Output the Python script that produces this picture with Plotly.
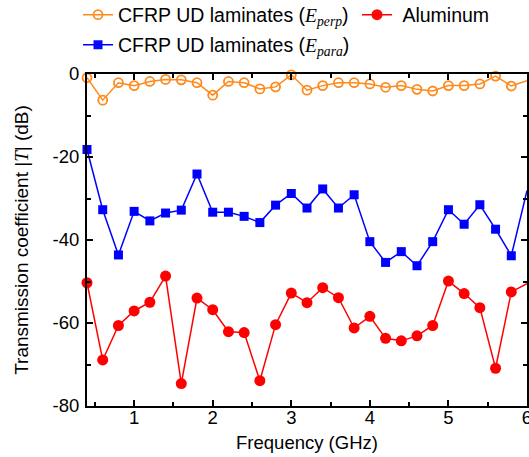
import plotly.graph_objects as go

freq = [0.4, 0.6, 0.8, 1.0, 1.2, 1.4, 1.6, 1.8, 2.0, 2.2, 2.4, 2.6, 2.8, 3.0, 3.2,
        3.4, 3.6, 3.8, 4.0, 4.2, 4.4, 4.6, 4.8, 5.0, 5.2, 5.4, 5.6, 5.8, 6.0]

t_perp = [-0.9, -6.3, -2.1, -2.8, -1.8, -1.3, -1.4, -2.1, -5.1, -1.8, -2.1, -3.6, -3.1, -0.2, -3.9,
          -2.8, -2.1, -2.1, -2.4, -3.2, -2.8, -3.7, -4.1, -2.8, -2.8, -2.4, -0.5, -2.9, -1.6]

t_para = [-18.2, -32.7, -43.6, -33.1, -35.4, -33.5, -32.8, -24.1, -33.3, -33.3, -34.3, -35.8, -31.6, -28.8, -32.3,
          -27.7, -32.3, -29.1, -40.4, -45.4, -42.8, -46.2, -40.4, -32.7, -36.2, -31.5, -37.4, -43.8, -28.1]

t_alu = [-50.3, -68.9, -60.6, -57.1, -55.0, -48.7, -74.6, -54.0, -56.8, -62.1, -62.3, -73.9, -60.4, -52.8, -55.1,
         -51.5, -53.9, -61.2, -58.4, -63.7, -64.3, -63.1, -60.6, -49.9, -52.9, -56.3, -70.9, -52.5, -50.5]

x_ticks = [1, 2, 3, 4, 5, 6]
y_ticks = [0, -20, -40, -60, -80]
y_ticktext = ["0", "-20", "-40", "-60", "-80"]

ORANGE = "#FF8A1C"
BLUE = "#0000FF"
RED = "#FF0000"
FONT = "Liberation Sans"

# hide the marker sitting exactly on the right frame (clipped in the original)
vis = [1] * (len(freq) - 1) + [0]

name_perp = ("CFRP UD laminates (<span style=\"font-family:'Liberation Serif'\"><i>E</i>"
             "<sub><i>perp</i></sub></span>)")
name_para = ("CFRP UD laminates (<span style=\"font-family:'Liberation Serif'\"><i>E</i>"
             "<sub><i>para</i></sub></span>)")

fig = go.Figure()
fig.add_trace(go.Scatter(
    x=freq, y=t_perp, mode="lines+markers", name=name_perp,
    line=dict(color=ORANGE, width=1.5),
    marker=dict(symbol="circle-open", size=9, color=ORANGE, line=dict(width=1.8, color=ORANGE), opacity=vis),
    cliponaxis=False, legend="legend"))
fig.add_trace(go.Scatter(
    x=freq, y=t_alu, mode="lines+markers", name="\u00a0Aluminum",
    line=dict(color=RED, width=1.5),
    marker=dict(symbol="circle", size=11, color=RED, opacity=vis),
    cliponaxis=False, legend="legend3"))
fig.add_trace(go.Scatter(
    x=freq, y=t_para, mode="lines+markers", name=name_para,
    line=dict(color=BLUE, width=1.5),
    marker=dict(symbol="square", size=9, color=BLUE, opacity=vis),
    cliponaxis=False, legend="legend2"))

axis_common = dict(
    showline=True, linecolor="black", linewidth=2, mirror="allticks",
    ticks="inside", ticklen=6, tickwidth=2, tickcolor="black",
    showgrid=False, zeroline=False, ticklabeloverflow="allow",
    tickfont=dict(family=FONT, size=18.5, color="black"),
)

fig.update_xaxes(
    range=[0.4, 6.0], tickvals=x_ticks,
    minor=dict(tickvals=[0.5, 1.5, 2.5, 3.5, 4.5, 5.5], ticks="inside", ticklen=4, tickwidth=1.5, tickcolor="black"),
    title=dict(text="Frequency (GHz)", font=dict(family=FONT, size=18.5, color="black"), standoff=9),
    ticklabelstandoff=-6,
    **axis_common)
fig.update_yaxes(
    range=[-80, 0], tickvals=y_ticks, ticktext=y_ticktext,
    minor=dict(tickvals=[-10, -30, -50, -70], ticks="inside", ticklen=4, tickwidth=1.5, tickcolor="black"),
    title=dict(text="Transmission coefficient |<span style=\"font-family:'Liberation Serif'\"><i>T</i></span>| (dB)",
               font=dict(family=FONT, size=19, color="black"), standoff=19),
    ticklabelstandoff=2,
    **axis_common)

legend_common = dict(
    orientation="h", xref="container", yref="container", xanchor="left", yanchor="middle",
    font=dict(family=FONT, size=19.5, color="black"), bgcolor="rgba(0,0,0,0)",
    itemwidth=30, tracegroupgap=0, itemclick=False,
)
fig.update_layout(
    width=529, height=457,
    margin=dict(l=87, r=2, t=74, b=51, autoexpand=False),
    paper_bgcolor="white", plot_bgcolor="white",
    font=dict(family=FONT, size=18.5, color="black"),
    legend=dict(x=78 / 529, y=1 - 15 / 457, **legend_common),
    legend3=dict(x=357 / 529, y=1 - 15 / 457, **legend_common),
    legend2=dict(x=78 / 529, y=1 - 45 / 457, **legend_common),
    showlegend=True,
)

fig.write_html("out.html")
